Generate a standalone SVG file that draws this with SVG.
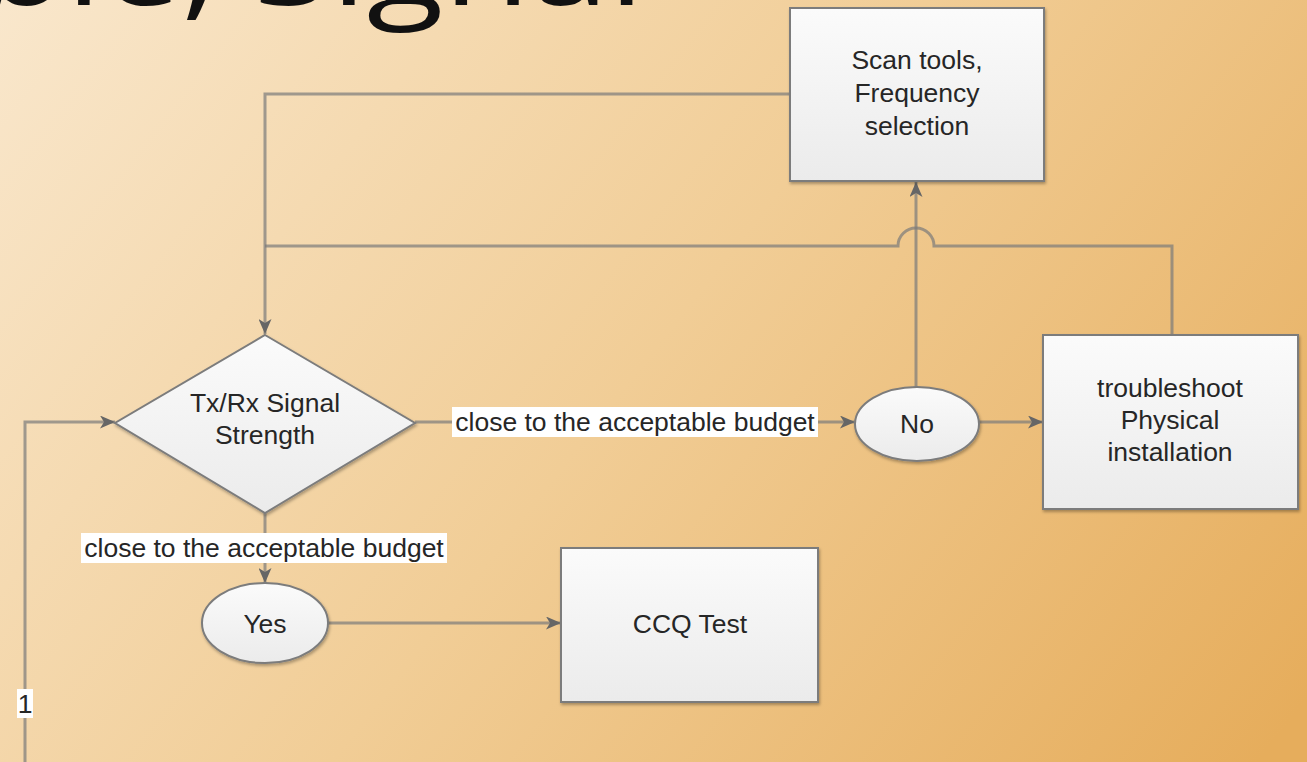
<svg xmlns="http://www.w3.org/2000/svg" width="1307" height="762" viewBox="0 0 1307 762">
  <defs>
    <linearGradient id="bg" gradientUnits="userSpaceOnUse" x1="0" y1="0" x2="1150" y2="900">
      <stop offset="0" stop-color="#f9e7cc"/>
      <stop offset="0.5" stop-color="#f1cd96"/>
      <stop offset="1" stop-color="#e6ad5c"/>
    </linearGradient>
    <linearGradient id="nodeFill" x1="0" y1="0" x2="0" y2="1">
      <stop offset="0" stop-color="#fbfbfb"/>
      <stop offset="1" stop-color="#ebebeb"/>
    </linearGradient>
    <filter id="shadow" x="-10%" y="-10%" width="120%" height="125%">
      <feDropShadow dx="1" dy="2" stdDeviation="1.5" flood-color="#000" flood-opacity="0.3"/>
    </filter>
    <marker id="arrow" viewBox="0 0 15 13" markerWidth="15" markerHeight="13" refX="15" refY="6.5" orient="auto" markerUnits="userSpaceOnUse">
      <path d="M0,0 L15,6.5 L0,13 L4,6.5 z" fill="#666"/>
    </marker>
    <style>
      .node { fill: url(#nodeFill); stroke: #7c7c7c; stroke-width: 2; filter: url(#shadow); }
      .txt { font-family: "Liberation Sans", Arial, sans-serif; font-size: 26.5px; fill: #262626; text-anchor: middle; }
      .conn { fill: none; stroke: #7a7a7a; stroke-opacity: 0.7; stroke-width: 3; }
      .lblbox { fill: #ffffff; }
      .head { font-family: "Open Sans", "Noto Sans", sans-serif; font-size: 115px; fill: #111; }
    </style>
  </defs>

  <!-- background -->
  <rect x="0" y="0" width="1307" height="762" fill="url(#bg)"/>

  <!-- heading, partly above the top edge (wide setting) -->
  <g transform="scale(1.23,1)">
    <text class="head" x="-80.5" y="5">able,</text>
    <text class="head" x="206" y="5">Signal</text>
  </g>

  <!-- connectors -->
  <g id="connectors">
    <path class="conn" d="M790,94 L265,94 L265,334" marker-end="url(#arrow)"/>
    <path class="conn" d="M1172,335 L1172,246 L934,246 A18,18 0 0 0 898,246 L265,246"/>
    <path class="conn" d="M916,387 L916,182" marker-end="url(#arrow)"/>
    <path class="conn" d="M25,762 L25,422 L115,422" marker-end="url(#arrow)"/>
    <path class="conn" d="M415,422 L855,422" marker-end="url(#arrow)"/>
    <path class="conn" d="M979,422 L1043,422" marker-end="url(#arrow)"/>
    <path class="conn" d="M265,513 L265,583" marker-end="url(#arrow)"/>
    <path class="conn" d="M328,623 L561,623" marker-end="url(#arrow)"/>
    <!-- connector labels -->
    <rect class="lblbox" x="452" y="407" width="366" height="30"/>
    <text class="txt" x="635" y="431">close to the acceptable budget</text>
    <rect class="lblbox" x="81" y="533" width="366" height="30"/>
    <text class="txt" x="264" y="557">close to the acceptable budget</text>
    <rect class="lblbox" x="17" y="689" width="16" height="29"/>
    <text class="txt" x="25" y="713">1</text>
  </g>

  <g id="scan-tools">
    <rect class="node" x="790" y="8" width="254" height="173"/>
    <text class="txt" x="917" y="69">Scan tools,</text>
    <text class="txt" x="917" y="102">Frequency</text>
    <text class="txt" x="917" y="135">selection</text>
  </g>

  <g id="signal-strength">
    <polygon class="node" points="265,335 415,423 265,513 115,423"/>
    <text class="txt" x="265" y="412">Tx/Rx Signal</text>
    <text class="txt" x="265" y="444">Strength</text>
  </g>

  <g id="no">
    <ellipse class="node" cx="917" cy="424" rx="62" ry="37"/>
    <text class="txt" x="917" y="433">No</text>
  </g>

  <g id="troubleshoot">
    <rect class="node" x="1043" y="335" width="255" height="174"/>
    <text class="txt" x="1170" y="397">troubleshoot</text>
    <text class="txt" x="1170" y="429">Physical</text>
    <text class="txt" x="1170" y="461">installation</text>
  </g>

  <g id="yes">
    <ellipse class="node" cx="265" cy="623" rx="63" ry="40"/>
    <text class="txt" x="265" y="633">Yes</text>
  </g>

  <g id="ccq-test">
    <rect class="node" x="561" y="548" width="257" height="154"/>
    <text class="txt" x="690" y="633">CCQ Test</text>
  </g>
</svg>
